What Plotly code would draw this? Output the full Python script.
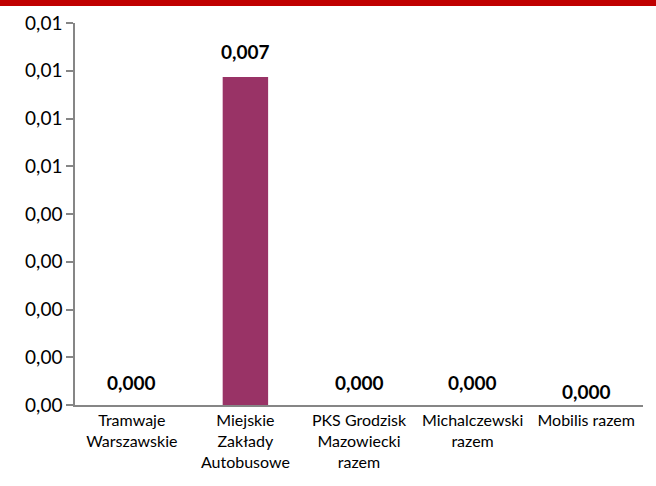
import plotly.graph_objects as go

categories = ["Tramwaje<br>Warszawskie", "Miejskie<br>Zakłady<br>Autobusowe",
              "PKS Grodzisk<br>Mazowiecki<br>razem", "Michalczewski<br>razem", "Mobilis razem"]
values = [0.0, 0.00687, 0.0, 0.0, 0.0]
labels = ["0,000", "0,007", "0,000", "0,000", "0,000"]
tick_vals = [0.000, 0.001, 0.002, 0.003, 0.004, 0.005, 0.006, 0.007, 0.008]

# label offsets in pixels (style)
label_shift = [23, 25, 23, 23, 14]

FONT = "Lato, Open Sans, sans-serif"

fig = go.Figure(go.Bar(
    x=categories, y=values,
    marker=dict(color="#993366", line=dict(width=0)),
    width=0.4,
))

for c, v, t, s in zip(categories, values, labels, label_shift):
    fig.add_annotation(x=c, y=v, text="<b>%s</b>" % t, showarrow=False,
                       yshift=s, yanchor="middle",
                       font=dict(family=FONT, size=19, color="#000000"))

top = 22.6
plot_h = 405 - top
fig.update_layout(
    width=656, height=486,
    margin=dict(l=75, r=13, t=top, b=81),
    paper_bgcolor="white", plot_bgcolor="white",
    separators=",.",
    showlegend=False,
    font=dict(family=FONT, color="#000000"),
    shapes=[dict(type="rect", xref="paper", yref="paper",
                 x0=-0.2, x1=1.1, y0=1.0 + (top - 5.5) / plot_h, y1=1.0 + (top + 5) / plot_h,
                 fillcolor="#C00000", line=dict(width=0))],
)
fig.update_yaxes(range=[0, 0.008], tickvals=tick_vals, tickformat=".2f",
                 showgrid=False, zeroline=False, showline=True,
                 linecolor="#868686", linewidth=1.5,
                 ticks="outside", ticklen=7, tickcolor="#868686", tickwidth=1.5,
                 tickfont=dict(family=FONT, size=19, color="#000000"))
fig.update_xaxes(showgrid=False, showline=True, linecolor="#868686", linewidth=1.5,
                 ticks="", tickfont=dict(family=FONT, size=16, color="#000000"))

fig.write_html("out.html", config={"displayModeBar": False},
               post_script="document.body.style.margin='0';")
